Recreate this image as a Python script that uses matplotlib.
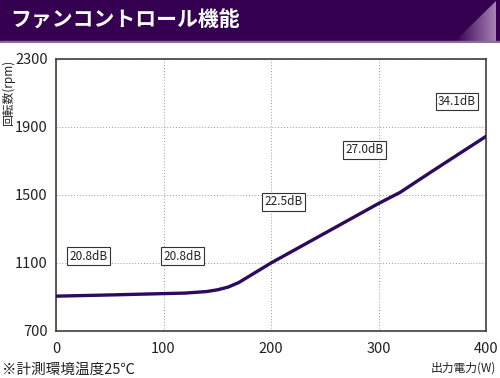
import numpy as np
import matplotlib
matplotlib.use('Agg')
import matplotlib.pyplot as plt
from matplotlib.patches import Rectangle, Polygon

plt.rcParams['font.family'] = ['Noto Sans CJK JP', 'DejaVu Sans']

# fan speed curve
watts = [0, 50, 100, 120, 140, 150, 160, 170, 200, 250, 300, 320, 350, 400]
rpm = [905, 912, 920, 923, 932, 942, 958, 985, 1100, 1275, 1450, 1515, 1640, 1845]

# noise labels (W, rpm, text)
noiseX = [30, 118, 212, 287, 373]
noiseY = [1140, 1140, 1460, 1765, 2050]
noiseText = ['20.8dB', '20.8dB', '22.5dB', '27.0dB', '34.1dB']

xTicks = [0, 100, 200, 300, 400]
yTicks = [700, 1100, 1500, 1900, 2300]

W, H = 500, 378
fig = plt.figure(figsize=(W / 100, H / 100), dpi=100)

# header band
head = fig.add_axes([0, 1 - 43 / H, 1, 43 / H])
head.set_xlim(0, W)
head.set_ylim(43, 0)
head.axis('off')
head.add_patch(Rectangle((0, 0), W, 41, color='#35004f', zorder=1))
grad = np.linspace(0, 1, 64).reshape(1, -1)
cmap = matplotlib.colors.LinearSegmentedColormap.from_list('g', ['#35004f', '#a681b4'])
im = head.imshow(grad, extent=(455, 496, 41, 0), aspect='auto', cmap=cmap, zorder=2)
tri = Polygon([(455, 41), (496, 1), (496, 41)], closed=True, transform=head.transData)
im.set_clip_path(tri)
head.add_patch(Rectangle((0, 40.5), W, 2, color='#8c6c9c', zorder=3))
head.text(10, 20, 'ファンコントロール機能', color='white', fontsize=15,
          fontweight='bold', va='center', ha='left', zorder=4)

ax = fig.add_axes([56 / W, 1 - 331 / H, 430 / W, 272 / H])
ax.plot(watts, rpm, color='#2c0a5c', lw=2.4, solid_capstyle='round', solid_joinstyle='round', zorder=3)

ax.set_xlim(0, 400)
ax.set_ylim(700, 2300)
ax.set_xticks(xTicks)
ax.set_yticks(yTicks)
ax.grid(True, linestyle=(0, (1, 2)), color='#999999', lw=0.7)
ax.tick_params(length=0, labelsize=10.5, colors='#222222')
ax.tick_params(axis='x', pad=8)
ax.tick_params(axis='y', pad=6)
for s in ax.spines.values():
    s.set_color('#4a3a34')
    s.set_linewidth(1.2)

for x, y, t in zip(noiseX, noiseY, noiseText):
    ax.text(x, y, t, fontsize=8.5, ha='center', va='center', color='#222222', zorder=4,
            bbox=dict(boxstyle='square,pad=0.2', fc='white', ec='#333333', lw=0.8))

fig.text(8 / W, 1 - 60 / H, '回転数(rpm)', rotation=90, ha='center', va='top', fontsize=8.5, color='#222222')
fig.text(496 / W, 1 - 368 / H, '出力電力(W)', ha='right', va='center', fontsize=8.5, color='#222222')
fig.text(2 / W, 1 - 370 / H, '※計測環境温度25℃', ha='left', va='center', fontsize=10.5, color='#222222')

fig.savefig('out.png', dpi=100)
